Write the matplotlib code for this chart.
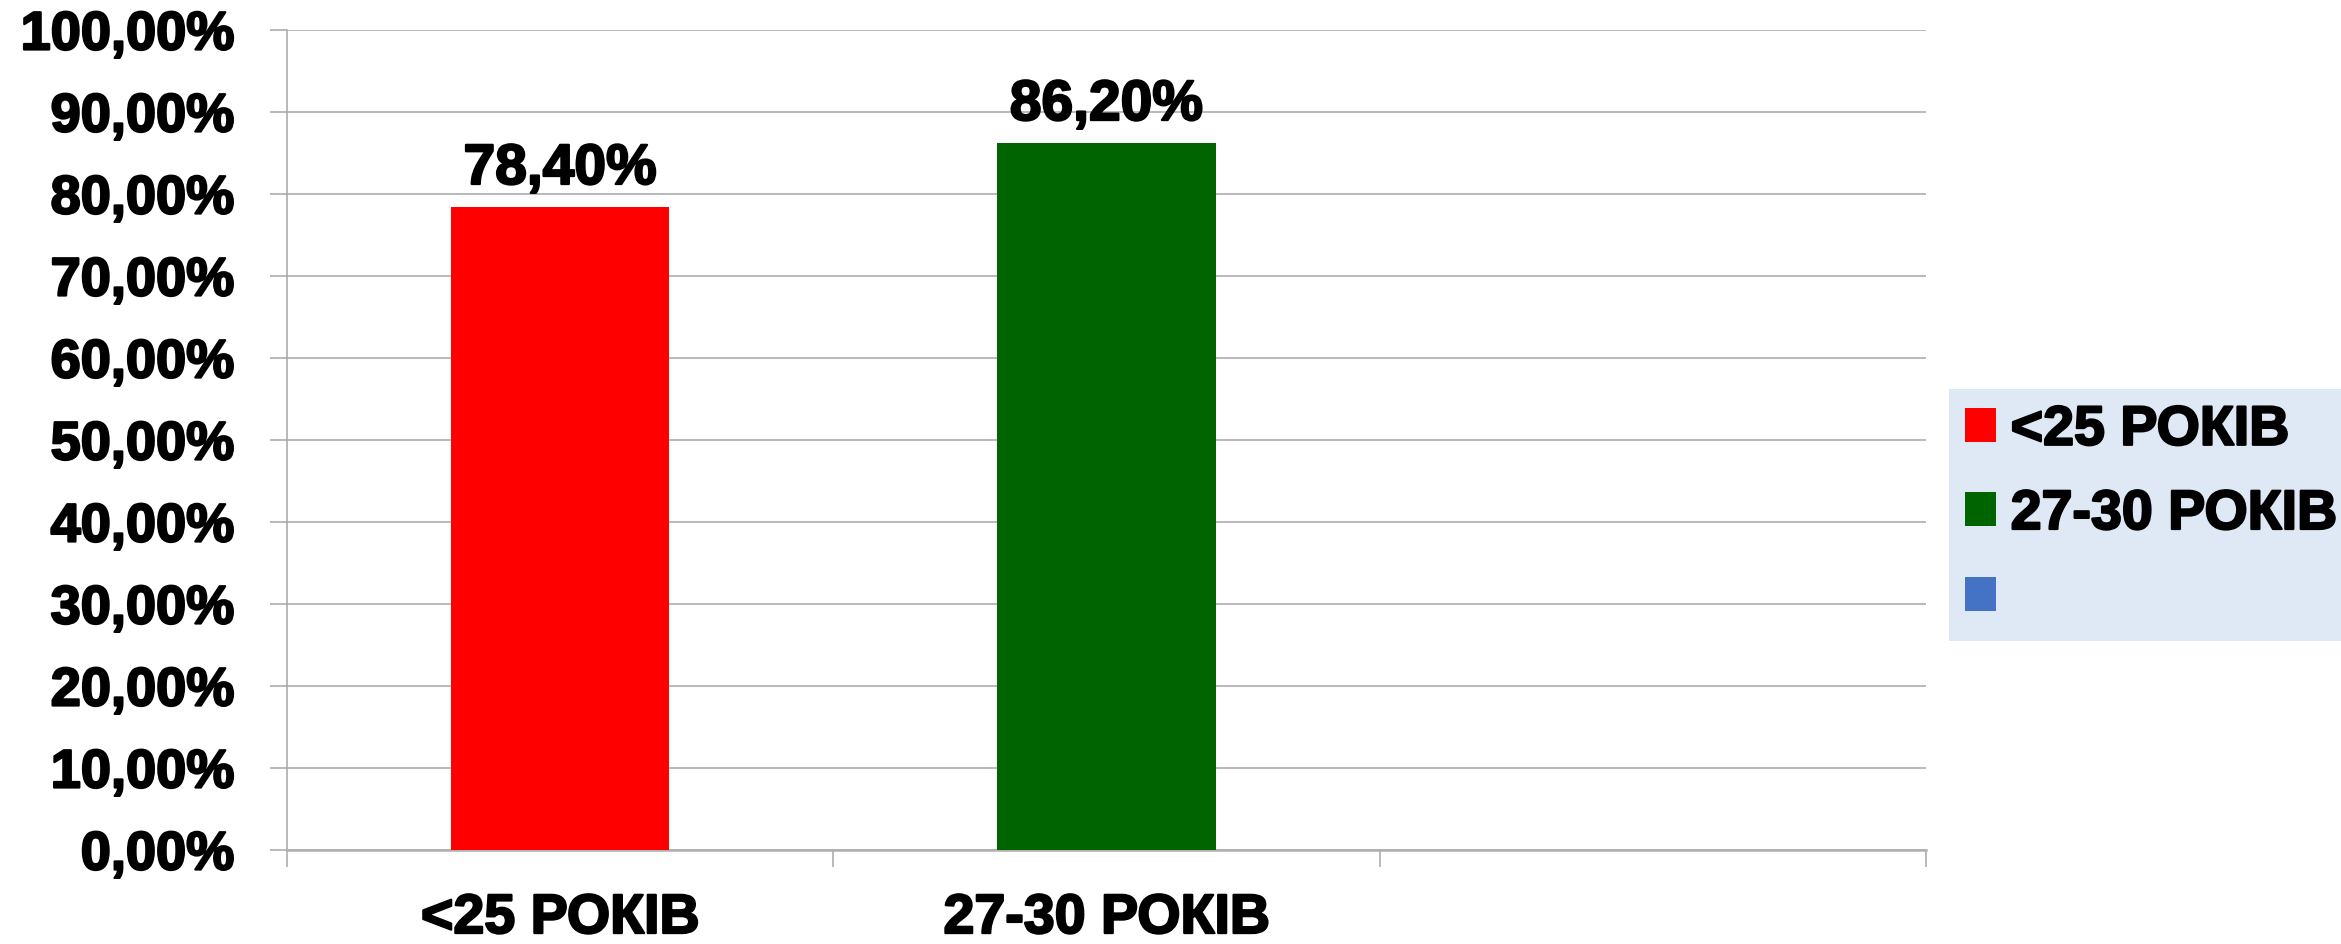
import matplotlib
matplotlib.use("Agg")
import matplotlib.pyplot as plt
import matplotlib.patheffects as pe
from matplotlib.patches import Patch
import numpy as np

# data
categories = ["<25 РОКІВ", "27-30 РОКІВ", ""]
values = [78.40, 86.20]
bar_colors = ["#FF0000", "#006400", "#4472C4"]
y_ticks = [0, 10, 20, 30, 40, 50, 60, 70, 80, 90, 100]

plt.rcParams['font.family'] = ['Liberation Sans', 'DejaVu Sans']
plt.rcParams['font.weight'] = 'bold'
fs = 40
grid_col = '#a6a6a6'
heavy = [pe.withStroke(linewidth=1.6, foreground='black')]

fig = plt.figure(figsize=(23.41, 9.45), dpi=100)
W, H = 2341, 945
ax = fig.add_axes([287 / W, (H - 851) / H, (1926 - 287) / W, (851 - 31) / H])

x = np.arange(len(categories))
bars = ax.bar(x[:len(values)], values, width=0.4, color=bar_colors[:len(values)], zorder=3)
blabels = ax.bar_label(bars, labels=[f"{v:.2f}%".replace('.', ',') for v in values],
                       padding=8, fontsize=fs + 1, fontweight='bold')

ax.set_xlim(-0.5, len(categories) - 0.5)
ax.set_ylim(0, 100)

# y axis
ax.set_yticks(y_ticks)
ax.set_yticklabels([f"{v:.2f}%".replace('.', ',') for v in y_ticks])
ax.tick_params(axis='y', length=12, width=1.1, color=grid_col, pad=26,
               labelsize=fs - 1, labelcolor='black')
ax.yaxis.grid(True, color=grid_col, linewidth=1.1, zorder=0)
ax.set_axisbelow(True)

# x axis: labels at centres, ticks on category boundaries
ax.set_xticks(x)
ax.set_xticklabels(categories)
ax.tick_params(axis='x', which='major', length=0, pad=31, labelsize=fs, labelcolor='black')
ax.set_xticks(np.arange(-0.5, len(categories)), minor=True)
ax.tick_params(axis='x', which='minor', length=12, width=1.1, color=grid_col)

for s in ['top', 'right']:
    ax.spines[s].set_visible(False)
ax.spines['left'].set_color(grid_col)
ax.spines['left'].set_linewidth(1.1)
ax.spines['bottom'].set_color('#b0b0b0')
ax.spines['bottom'].set_linewidth(1.8)

# legend
handles = [Patch(facecolor=c, edgecolor='none') for c in bar_colors]
leg = ax.legend(handles, categories, loc='center left',
                bbox_to_anchor=(1949 / W, (H - 516) / H), bbox_transform=fig.transFigure,
                fontsize=fs, frameon=True, fancybox=False, facecolor='#DEE9F5',
                edgecolor='none', framealpha=1, handlelength=0.56, handleheight=0.56,
                handletextpad=0.26, labelspacing=0.58, borderpad=0.29, borderaxespad=0)

texts = list(ax.get_xticklabels()) + list(ax.get_yticklabels()) + list(blabels) + leg.get_texts()
for t in texts:
    t.set_path_effects(heavy)

fig.savefig("out.png", dpi=100)
